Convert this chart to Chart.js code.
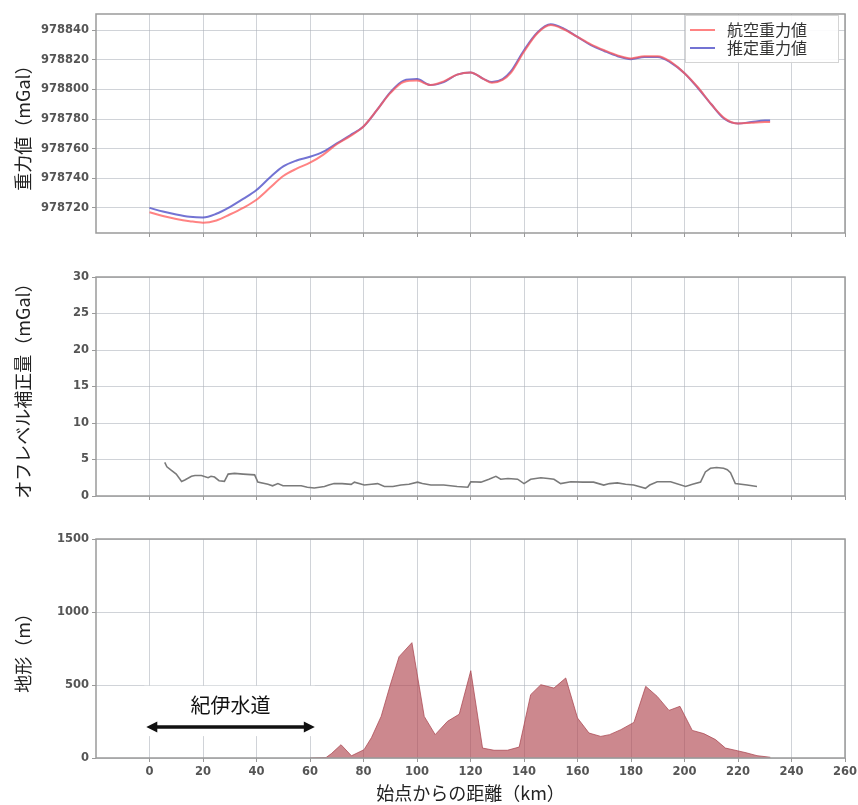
<!DOCTYPE html>
<html>
<head>
<meta charset="utf-8">
<script src="https://cdn.jsdelivr.net/npm/chart.js@4.4.1/dist/chart.umd.min.js"></script>
<style>
  html, body { margin: 0; padding: 0; background: #fff; }
  #wrap { position: relative; width: 858px; height: 805px; }
  canvas { position: absolute; left: 0; }
</style>
</head>
<body>
<div id="wrap">
  <canvas id="gravity" width="858" height="250" style="top:0px"></canvas>
  <canvas id="offlevel" width="858" height="260" style="top:250px"></canvas>
  <canvas id="terrain" width="858" height="295" style="top:510px"></canvas>
</div>
<script>
// gravity profile (mGal) along the flight line
const gravityKm = [0, 5, 10, 15, 20, 25, 30, 35, 40, 45, 50, 55, 60, 65, 70, 75, 80, 85, 90, 95,
  100, 105, 110, 115, 120, 125, 128, 132, 135, 140, 145, 150, 155, 160, 165, 170, 175, 180, 185,
  190, 195, 200, 205, 210, 215, 220, 225, 230, 232];
const airborneGravity = [978717, 978714.5, 978712.5, 978711, 978710, 978711.5, 978715.5, 978720,
  978725.5, 978733.5, 978741.5, 978746.5, 978750.5, 978756, 978763, 978768.5, 978775, 978786,
  978797.5, 978805, 978806, 978803, 978805.5, 978810, 978811.5, 978807, 978804.5, 978806.5,
  978811, 978825.5, 978838, 978843.5, 978840.5, 978835.5, 978830.5, 978826.5, 978823, 978821,
  978822.5, 978822.5, 978818.5, 978811, 978801.5, 978790, 978780.5, 978777, 978777.5, 978778, 978778];
const estimatedGravity = [978720, 978717.5, 978715.5, 978714, 978713.5, 978716, 978720.5, 978726,
  978732, 978740.5, 978748, 978752, 978754.5, 978758, 978763.5, 978769, 978775, 978786, 978798,
  978806, 978807, 978803, 978805, 978810, 978811.5, 978807, 978805, 978807, 978812, 978826.5,
  978838.5, 978844, 978841, 978835.5, 978830, 978826, 978822.5, 978820.5, 978822, 978822,
  978818, 978811, 978801, 978790, 978780, 978777, 978778, 978779, 978779];

// off-level correction (mGal)
const offLevelKm = [5.7, 6.5, 8.2, 10, 12, 13.2, 15.7, 17, 19.4, 21.9, 23, 24.3, 26, 28, 29.4, 31.8,
  35, 39.3, 40.5, 44.3, 46, 48, 49.9, 53, 56.7, 59, 61.6, 65.4, 67, 69, 72, 75.4, 76.6, 80.3, 83,
  85.3, 87.8, 91, 94, 97, 100.2, 102, 105.2, 108, 110, 115, 119, 120.1, 123.9, 126.9, 129.5,
  131.3, 134, 137.6, 140, 142.5, 146.3, 149, 151.2, 153.7, 157.5, 162, 166, 169.8, 172, 174.9,
  178, 181, 185.4, 187, 189.8, 194.8, 200.4, 203, 206, 207.8, 209.7, 212, 214.6, 216, 217.2, 219,
  223.4, 227.1];
const offLevel = [4.6, 4.0, 3.5, 3.0, 2.0, 2.2, 2.7, 2.8, 2.8, 2.5, 2.7, 2.6, 2.1, 2.0, 3.0, 3.1,
  3.0, 2.9, 1.9, 1.6, 1.4, 1.7, 1.4, 1.4, 1.4, 1.2, 1.1, 1.3, 1.5, 1.7, 1.7, 1.6, 1.9, 1.5, 1.6,
  1.7, 1.3, 1.3, 1.5, 1.6, 1.9, 1.7, 1.5, 1.5, 1.5, 1.3, 1.2, 1.95, 1.9, 2.3, 2.7,
  2.3, 2.4, 2.3, 1.7, 2.3, 2.5, 2.4, 2.3, 1.7, 1.95, 1.9, 1.9, 1.5, 1.7, 1.8,
  1.6, 1.5, 1.05, 1.5, 1.95, 1.95, 1.3, 1.6, 1.9, 3.3, 3.8, 3.9, 3.8, 3.6, 3.2, 1.7,
  1.5, 1.3];

// terrain height (m)
const terrainKm = [60, 66, 68, 71.6, 75.5, 80.2, 83, 86.6, 90, 93.3, 98.1, 102.7, 106.8, 111.4,
  115.8, 120.1, 124.5, 128.8, 133.8, 138.2, 142.5, 146.3, 151.2, 155.6, 160, 164.3, 168.7, 172,
  176.2, 181.1, 185.5, 189.8, 194.2, 198.3, 202.9, 207.2, 211.6, 215.3, 219.7, 223, 227.1, 232.1];
const terrainM = [0, 3, 30, 91, 15, 57, 140, 285, 500, 694, 790, 285, 160, 251,
  300, 598, 68, 53, 53, 75, 434, 502, 479, 548, 274, 171, 148, 160,
  194, 244, 491, 422, 326, 354, 189, 167, 126, 68, 50, 36, 16, 5];

// annotation: Kii channel span
const channelLabel = '紀伊水道';
const channelFromKm = -1.2;
const channelToKm = 61.8;

const gridColor = 'rgba(170, 174, 184, 0.55)';
const frameColor = '#9a9a9a';
const tickFont = { family: 'DejaVu Sans', size: 11.5, weight: 'bold' };
const tickColor = '#555';
const titleFont = { family: 'Noto Sans CJK JP', size: 18 };
const titleColor = '#222';

const toPoints = (xs, ys) => xs.map((x, i) => ({ x: x, y: ys[i] }));

// matplotlib-like frame around the plot area
const frame = {
  id: 'frame',
  afterDraw(chart) {
    const { ctx, chartArea: a } = chart;
    ctx.save();
    ctx.strokeStyle = frameColor;
    ctx.lineWidth = 1.5;
    ctx.strokeRect(a.left, a.top, a.right - a.left, a.bottom - a.top);
    ctx.restore();
  }
};

// framed legend in the upper right of the plot area
const boxLegend = {
  id: 'boxLegend',
  afterDraw(chart) {
    const { ctx, chartArea: a } = chart;
    const w = 153, h = 47;
    const x = a.right - w - 7, y = a.top + 1;
    ctx.save();
    ctx.fillStyle = 'rgba(255,255,255,0.92)';
    ctx.strokeStyle = '#d4d4d4';
    ctx.lineWidth = 1;
    ctx.fillRect(x, y, w, h);
    ctx.strokeRect(x + 0.5, y + 0.5, w, h);
    ctx.font = '16px "Noto Sans CJK JP"';
    ctx.textBaseline = 'middle';
    chart.data.datasets.forEach((ds, i) => {
      const ly = y + 15 + i * 18;
      ctx.strokeStyle = ds.borderColor;
      ctx.lineWidth = 2;
      ctx.beginPath();
      ctx.moveTo(x + 5, ly);
      ctx.lineTo(x + 30, ly);
      ctx.stroke();
      ctx.fillStyle = '#333';
      ctx.fillText(ds.label, x + 42, ly);
    });
    ctx.restore();
  }
};

// "紀伊水道" label with a double-headed arrow, on a white patch
const channelNote = {
  id: 'channelNote',
  beforeDatasetsDraw(chart) {
    const { ctx, scales: { x, y } } = chart;
    const x1 = x.getPixelForValue(channelFromKm);
    const x2 = x.getPixelForValue(channelToKm);
    const ay = y.getPixelForValue(212);
    ctx.save();
    ctx.fillStyle = '#fff';
    ctx.fillRect(x1 - 2, y.getPixelForValue(495), x2 - x1 + 2, y.getPixelForValue(150) - y.getPixelForValue(495));
    ctx.fillStyle = '#111';
    ctx.font = '20px "Noto Sans CJK JP"';
    ctx.textAlign = 'center';
    ctx.textBaseline = 'middle';
    ctx.fillText(channelLabel, (x1 + x2) / 2, y.getPixelForValue(363));
    const head = 11, half = 5.5;
    ctx.strokeStyle = '#111';
    ctx.lineWidth = 3.5;
    ctx.beginPath();
    ctx.moveTo(x1 + head - 1, ay);
    ctx.lineTo(x2 - head + 1, ay);
    ctx.stroke();
    ctx.beginPath();
    ctx.moveTo(x1, ay);
    ctx.lineTo(x1 + head, ay - half);
    ctx.lineTo(x1 + head, ay + half);
    ctx.closePath();
    ctx.moveTo(x2, ay);
    ctx.lineTo(x2 - head, ay - half);
    ctx.lineTo(x2 - head, ay + half);
    ctx.closePath();
    ctx.fill();
    ctx.restore();
  }
};

function xAxis(height, showLabels, title) {
  return {
    type: 'linear',
    min: -20,
    max: 260,
    ticks: { stepSize: 20, display: showLabels, color: tickColor, font: tickFont, padding: 3, maxRotation: 0, autoSkip: false },
    grid: { color: gridColor, tickLength: 4, tickColor: frameColor },
    border: { display: false },
    title: title ? { display: true, text: title, font: titleFont, color: titleColor, padding: { top: 0, bottom: 1 } } : { display: false },
    afterBuildTicks: s => { s.ticks = s.ticks.filter(t => t.value >= 0); },
    afterFit: s => { s.height = height; s.paddingLeft = 0; s.paddingRight = 0; }
  };
}

function yAxis(min, max, step, title) {
  return {
    min: min,
    max: max,
    ticks: { stepSize: step, includeBounds: false, format: { useGrouping: false }, color: tickColor, font: tickFont, padding: 3 },
    grid: { color: gridColor, tickLength: 4, tickColor: frameColor },
    border: { display: false },
    title: { display: true, text: title, font: titleFont, color: titleColor, padding: { top: 0, bottom: 0 } },
    afterFit: s => { s.width = 84; s.paddingTop = 0; s.paddingBottom = 0; }
  };
}

function baseOptions(top, xHeight, showX, xTitle, y) {
  return {
    responsive: false,
    animation: false,
    events: [],
    layout: { padding: { left: 12, right: 13, top: top, bottom: 0 } },
    plugins: { legend: { display: false }, tooltip: { enabled: false } },
    elements: { point: { radius: 0 } },
    scales: { x: xAxis(xHeight, showX, xTitle), y: y }
  };
}

new Chart(document.getElementById('gravity'), {
  type: 'line',
  data: {
    datasets: [
      {
        label: '航空重力値',
        data: toPoints(gravityKm, airborneGravity),
        borderColor: 'rgba(255, 90, 90, 0.75)',
        backgroundColor: 'rgba(255, 90, 90, 0.75)',
        borderWidth: 2,
        cubicInterpolationMode: 'monotone'
      },
      {
        label: '推定重力値',
        data: toPoints(gravityKm, estimatedGravity),
        borderColor: 'rgba(80, 80, 200, 0.8)',
        backgroundColor: 'rgba(80, 80, 200, 0.8)',
        borderWidth: 2,
        cubicInterpolationMode: 'monotone'
      }
    ]
  },
  options: baseOptions(14, 17, false, null, yAxis(978703, 978851, 20, '重力値（mGal）')),
  plugins: [frame, boxLegend]
});

new Chart(document.getElementById('offlevel'), {
  type: 'line',
  data: {
    datasets: [{
      label: 'オフレベル補正量',
      data: toPoints(offLevelKm, offLevel),
      borderColor: '#7a7a7a',
      borderWidth: 1.6,
      tension: 0
    }]
  },
  options: baseOptions(27, 14, false, null, yAxis(0, 30, 5, 'オフレベル補正量（mGal）')),
  plugins: [frame]
});

new Chart(document.getElementById('terrain'), {
  type: 'line',
  data: {
    datasets: [{
      label: '地形',
      data: toPoints(terrainKm, terrainM),
      borderColor: 'rgba(170, 70, 80, 0.75)',
      backgroundColor: 'rgba(176, 72, 82, 0.65)',
      borderWidth: 1,
      fill: 'origin',
      tension: 0
    }]
  },
  options: baseOptions(29, 47, true, '始点からの距離（km）', yAxis(0, 1500, 500, '地形（m）')),
  plugins: [frame, channelNote]
});
</script>
</body>
</html>
